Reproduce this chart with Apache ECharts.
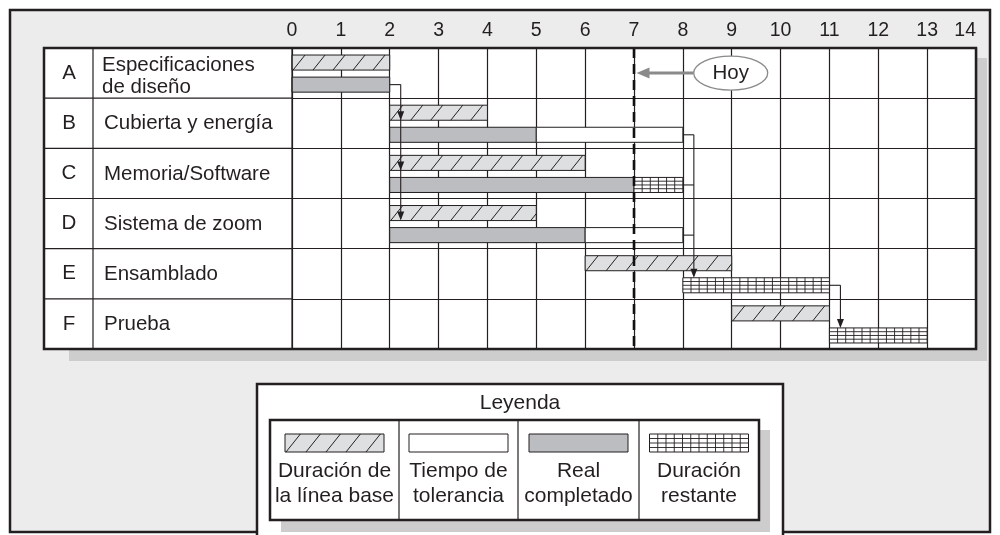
<!DOCTYPE html>
<html><head><meta charset="utf-8">
<script src="https://cdn.jsdelivr.net/npm/echarts@6/dist/echarts.min.js"></script>
<style>html,body{margin:0;padding:0;background:#fff}#c{width:1000px;height:535px}</style>
</head><body><div id="c"></div>
<script>
// ---------- data ----------
const taskIds = ['A', 'B', 'C', 'D', 'E', 'F'];
const taskNames = ['Especificaciones\nde diseño', 'Cubierta y energía', 'Memoria/Software', 'Sistema de zoom', 'Ensamblado', 'Prueba'];
const weekMin = 0, weekMax = 14, weekStep = 1;
const baseline   = [[0, 2], [2, 4], [2, 6], [2, 5], [6, 9], [9, 11]];
const actualDone = [[0, 2], [2, 5], [2, 7], [2, 6], null, null];
const slackTime  = [null, [5, 8], null, [6, 8], null, null];
const remaining  = [null, null, [7, 8], null, [8, 11], [11, 13]];
const links = [
  { from: ['A'], to: ['B', 'C', 'D'], into: 'baseline' },
  { from: ['B', 'C', 'D'], to: ['E'], into: 'progress' },
  { from: ['E'], to: ['F'], into: 'progress' }
];
const today = 7;
const todayLabel = 'Hoy';
const todayLabelAt = 9;
const legendTitle = 'Leyenda';
const legendLabels = ['Duración de\nla línea base', 'Tiempo de\ntolerancia', 'Real\ncompletado', 'Duración\nrestante'];
const legendKinds = ['baseline', 'slack', 'done', 'remaining'];

// ---------- style ----------
const INK = '#231f20';
const HATCH_FILL = '#dedfe0';
const DONE_FILL = '#bcbdc0';
const FRAME_BG = '#ececec';
const SHADOW = '#cdcdcd';
const FONT = '20.5px "Liberation Sans", Arial, sans-serif';
const LEG_FONT = '21px "Liberation Sans", Arial, sans-serif';
const GRID = { left: 292, right: 24, top: 48, bottom: 186 };
const TABLE = { x: 44, y: 48, x2: 976, y2: 349 };

function hatchEls(x, y, w, h) {
  const els = [{ type: 'rect', shape: { x, y, width: w, height: h }, style: { fill: HATCH_FILL, stroke: INK, lineWidth: 1 } }];
  const dx = h * 0.8;
  for (let sx = x + 1; sx < x + w - 1; sx += 20) {
    let x2 = sx + dx, y2 = y;
    if (x2 > x + w) { const t = (x + w - sx) / dx; x2 = x + w; y2 = y + h - t * h; }
    els.push({ type: 'line', shape: { x1: sx, y1: y + h, x2, y2 }, style: { stroke: INK, lineWidth: 1 } });
  }
  return els;
}
function gridEls(x, y, w, h) {
  const els = [{ type: 'rect', shape: { x, y, width: w, height: h }, style: { fill: '#fff', stroke: INK, lineWidth: 1 } }];
  const n = Math.max(1, Math.round(w / 8.2));
  const step = w / n;
  for (let k = 1; k < n; k++) {
    els.push({ type: 'line', shape: { x1: x + k * step, y1: y, x2: x + k * step, y2: y + h }, style: { stroke: INK, lineWidth: 0.9 } });
  }
  for (let k = 1; k < 4; k++) {
    els.push({ type: 'line', shape: { x1: x, y1: y + k * h / 4, x2: x + w, y2: y + k * h / 4 }, style: { stroke: INK, lineWidth: 0.9 } });
  }
  return els;
}
function plainEls(x, y, w, h, fill) {
  return [{ type: 'rect', shape: { x, y, width: w, height: h }, style: { fill, stroke: INK, lineWidth: 1 } }];
}
function kindEls(kind, x, y, w, h) {
  if (kind === 'baseline') return hatchEls(x, y, w, h);
  if (kind === 'remaining') return gridEls(x, y, w, h);
  if (kind === 'done') return plainEls(x, y, w, h, DONE_FILL);
  return plainEls(x, y, w, h, '#fff');
}

const UPPER = -0.21, LOWER = 0.23, BAR_H = 0.30;
function barRect(api, s, e, row, slot) {
  const p0 = api.coord([s, row]);
  const p1 = api.coord([e, row]);
  const band = api.size([0, 1])[1];
  const h = BAR_H * band;
  const cy = p0[1] + (slot === 'upper' ? UPPER : LOWER) * band;
  return { x: p0[0], y: cy - h / 2, w: p1[0] - p0[0], h };
}
function toItems(arr) {
  const out = [];
  arr.forEach((iv, i) => { if (iv) out.push([iv[0], iv[1], i]); });
  return out;
}
function barSeries(name, arr, kind, slot) {
  return {
    type: 'custom', name, z: 5,
    data: toItems(arr),
    encode: { x: [0, 1], y: 2 },
    renderItem(params, api) {
      const r = barRect(api, api.value(0), api.value(1), api.value(2), slot);
      return { type: 'group', children: kindEls(kind, r.x, r.y, r.w, r.h) };
    }
  };
}
function taskEnd(i) {
  let m = -Infinity;
  [actualDone, slackTime, remaining].forEach(a => { if (a[i]) m = Math.max(m, a[i][1]); });
  return m;
}

const chart = echarts.init(document.getElementById('c'), null, { renderer: 'canvas' });

// legend graphics
const legendCols = [270, 399, 518, 639, 759];
const legendEls = [
  { type: 'rect', shape: { x: 257, y: 384, width: 526, height: 170 }, style: { fill: '#fff', stroke: INK, lineWidth: 2.5 }, z: 50 },
  { type: 'text', x: 520, y: 403, style: { text: legendTitle, font: LEG_FONT, fill: INK, align: 'center', verticalAlign: 'middle' }, z: 51 },
  { type: 'rect', shape: { x: 281, y: 430, width: 489, height: 102 }, style: { fill: SHADOW }, z: 51 },
  { type: 'rect', shape: { x: 270, y: 420, width: 489, height: 100 }, style: { fill: '#fff', stroke: INK, lineWidth: 2.5 }, z: 52 }
];
for (let k = 1; k < 4; k++) {
  legendEls.push({ type: 'line', shape: { x1: legendCols[k], y1: 420, x2: legendCols[k], y2: 520 }, style: { stroke: INK, lineWidth: 1.2 }, z: 53 });
}
legendKinds.forEach((kind, k) => {
  const cx = (legendCols[k] + legendCols[k + 1]) / 2;
  kindEls(kind, cx - 49.5, 434, 99, 18).forEach(el => { el.z = 53; legendEls.push(el); });
  legendEls.push({ type: 'text', x: cx, y: 484, style: { text: legendLabels[k], font: LEG_FONT, lineHeight: 25, fill: INK, align: 'center', verticalAlign: 'middle' }, z: 54 });
});

const option = {
  animation: false,
  backgroundColor: '#fff',
  grid: { left: GRID.left, right: GRID.right, top: GRID.top, bottom: GRID.bottom, containLabel: false },
  xAxis: {
    type: 'value', position: 'top', min: weekMin, max: weekMax, interval: weekStep, z: 1,
    axisLine: { show: false }, axisTick: { show: false },
    axisLabel: { fontSize: 19.5, fontFamily: 'Liberation Sans', color: INK, margin: 7, alignMaxLabel: 'right' },
    splitLine: { show: true, lineStyle: { color: INK, width: 1.2 } }
  },
  yAxis: {
    type: 'category', data: taskIds, inverse: true, z: 1,
    axisLine: { show: false }, axisTick: { show: false }, axisLabel: { show: false },
    splitLine: { show: true, interval: 0, lineStyle: { color: INK, width: 1.2 } }
  },
  graphic: {
    elements: [
      { type: 'rect', shape: { x: 10, y: 10, width: 980, height: 522 }, style: { fill: FRAME_BG, stroke: INK, lineWidth: 2.5 }, z: -30 },
      { type: 'rect', shape: { x: 69, y: 58, width: 918, height: 303 }, style: { fill: SHADOW }, z: -29 },
      { type: 'rect', shape: { x: TABLE.x, y: TABLE.y, width: TABLE.x2 - TABLE.x, height: TABLE.y2 - TABLE.y }, style: { fill: '#fff' }, z: -28 },
      { type: 'rect', shape: { x: TABLE.x, y: TABLE.y, width: TABLE.x2 - TABLE.x, height: TABLE.y2 - TABLE.y }, style: { fill: null, stroke: INK, lineWidth: 2.5 }, z: 40 },
      { type: 'line', shape: { x1: 93, y1: TABLE.y, x2: 93, y2: TABLE.y2 }, style: { stroke: INK, lineWidth: 1.2 }, z: 40 },
      { type: 'line', shape: { x1: GRID.left, y1: TABLE.y, x2: GRID.left, y2: TABLE.y2 }, style: { stroke: INK, lineWidth: 1.2 }, z: 40 }
    ].concat(legendEls)
  },
  series: [
    {
      type: 'custom', name: 'tabla', z: 4, clip: false,
      data: taskIds.map((id, i) => [0, i]),
      encode: { x: 0, y: 1 },
      renderItem(params, api) {
        const i = params.dataIndex;
        const c = api.coord([0, i]);
        const band = api.size([0, 1])[1];
        const ch = [
          { type: 'text', x: 69, y: c[1], style: { text: taskIds[i], font: FONT, fill: INK, align: 'center', verticalAlign: 'middle' } },
          { type: 'text', x: i === 0 ? 102 : 104, y: c[1] + (i === 0 ? 3 : 0.5), style: { text: taskNames[i], font: FONT, lineHeight: 22, fill: INK, align: 'left', verticalAlign: 'middle' } }
        ];
        if (i > 0) ch.push({ type: 'line', shape: { x1: TABLE.x, y1: c[1] - band / 2, x2: c[0], y2: c[1] - band / 2 }, style: { stroke: INK, lineWidth: 1.2 } });
        return { type: 'group', children: ch };
      }
    },
    barSeries('Duración de la línea base', baseline, 'baseline', 'upper'),
    barSeries('Real completado', actualDone, 'done', 'lower'),
    barSeries('Tiempo de tolerancia', slackTime, 'slack', 'lower'),
    barSeries('Duración restante', remaining, 'remaining', 'lower'),
    {
      type: 'custom', name: 'dependencias', z: 8, clip: false,
      data: links.map((l, i) => [i, 0]),
      encode: { x: 0, y: 1 },
      renderItem(params, api) {
        const L = links[params.dataIndex];
        const band = api.size([0, 1])[1];
        const pts = L.from.map(id => {
          const i = taskIds.indexOf(id);
          const p = api.coord([taskEnd(i), i]);
          return [p[0], p[1] + LOWER * band];
        });
        const bendX = Math.max(...pts.map(p => p[0])) + 11;
        const ch = [];
        pts.forEach(p => ch.push({ type: 'line', shape: { x1: p[0], y1: p[1], x2: bendX, y2: p[1] }, style: { stroke: INK, lineWidth: 1.1 } }));
        const tips = L.to.map(id => {
          const i = taskIds.indexOf(id);
          const cy = api.coord([0, i])[1];
          return L.into === 'baseline' ? cy + (UPPER + BAR_H / 2) * band : cy + (LOWER - BAR_H / 2) * band;
        });
        const y0 = Math.min(...pts.map(p => p[1]));
        const y1 = Math.max(...tips);
        ch.push({ type: 'line', shape: { x1: bendX, y1: y0, x2: bendX, y2: y1 - 2 }, style: { stroke: INK, lineWidth: 1.1 } });
        tips.forEach(t => ch.push({ type: 'polygon', shape: { points: [[bendX - 3.5, t - 9], [bendX + 3.5, t - 9], [bendX, t]] }, style: { fill: INK } }));
        return { type: 'group', children: ch };
      }
    },
    {
      type: 'custom', name: 'hoy', z: 9, clip: false,
      data: [[today, 0]],
      encode: { x: 0, y: 1 },
      renderItem(params, api) {
        const band = api.size([0, 1])[1];
        const top = api.coord([today, 0]);
        const bot = api.coord([today, taskIds.length - 1]);
        const lab = api.coord([todayLabelAt, 0]);
        const cx = lab[0] - 1, cy = lab[1], rx = 37, ry = 17;
        const tipX = top[0] + 2.5;
        return {
          type: 'group', children: [
            { type: 'line', shape: { x1: top[0], y1: top[1] - band / 2, x2: top[0], y2: bot[1] + band / 2 }, style: { stroke: '#111', lineWidth: 2.6, lineDash: [10, 6] } },
            { type: 'line', shape: { x1: tipX + 10, y1: cy, x2: cx - rx, y2: cy }, style: { stroke: '#8a8a8a', lineWidth: 3 } },
            { type: 'polygon', shape: { points: [[tipX, cy], [tipX + 13, cy - 5.5], [tipX + 13, cy + 5.5]] }, style: { fill: '#8a8a8a' } },
            { type: 'ellipse', shape: { cx, cy, rx, ry }, style: { fill: '#fff', stroke: '#8a8a8a', lineWidth: 1.3 } },
            { type: 'text', x: cx, y: cy, style: { text: todayLabel, font: FONT, fill: INK, align: 'center', verticalAlign: 'middle' } }
          ]
        };
      }
    }
  ]
};
chart.setOption(option);
</script>
</body></html>
